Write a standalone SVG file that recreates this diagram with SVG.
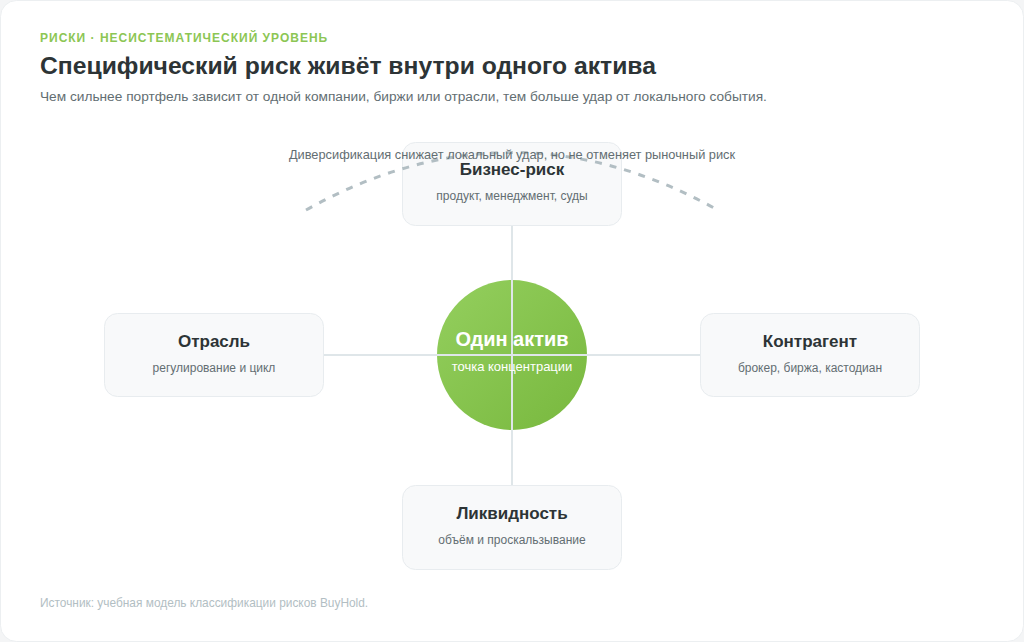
<svg xmlns="http://www.w3.org/2000/svg" width="1024" height="642" viewBox="0 0 1024 642">
<defs>
<linearGradient id="g" x1="0" y1="0" x2="1" y2="1">
<stop offset="0" stop-color="#94cf5e"/>
<stop offset="1" stop-color="#78b83e"/>
</linearGradient>
<style>
text{font-family:"Liberation Sans",Arial,sans-serif}
.card{fill:#f8f9fa;stroke:#e8ecef;stroke-width:1}
.t{font-size:17px;font-weight:bold;fill:#2d3436;text-anchor:middle}
.s{font-size:12px;fill:#636e72;text-anchor:middle}
.ln{stroke:#dfe6e9;stroke-width:2;fill:none}
</style>
</defs>
<rect width="1024" height="642" fill="#f4f5f6"/>
<rect x="0.5" y="0.5" width="1023" height="641" rx="16" fill="#ffffff" stroke="#eceff1"/>
<text x="40" y="42" font-size="12" font-weight="bold" fill="#8cc654" letter-spacing="1">РИСКИ · НЕСИСТЕМАТИЧЕСКИЙ УРОВЕНЬ</text>
<text x="40" y="74" font-size="24.7" font-weight="bold" fill="#2d3436">Специфический риск живёт внутри одного актива</text>
<text x="40" y="101" font-size="13.7" fill="#636e72">Чем сильнее портфель зависит от одной компании, биржи или отрасли, тем больше удар от локального события.</text>
<g id="node-business"><rect class="card" x="402.5" y="142.5" width="219" height="83" rx="13"/><text class="t" x="512" y="175">Бизнес-риск</text><text class="s" x="512" y="200">продукт, менеджмент, суды</text></g>
<g id="node-industry"><rect class="card" x="104.5" y="313.5" width="219" height="83" rx="13"/><text class="t" x="214" y="347">Отрасль</text><text class="s" x="214" y="372">регулирование и цикл</text></g>
<g id="node-counterparty"><rect class="card" x="700.5" y="313.5" width="219" height="83" rx="13"/><text class="t" x="810" y="347">Контрагент</text><text class="s" x="810" y="372">брокер, биржа, кастодиан</text></g>
<g id="node-liquidity"><rect class="card" x="402.5" y="485.5" width="219" height="84" rx="13"/><text class="t" x="512" y="519">Ликвидность</text><text class="s" x="512" y="544">объём и проскальзывание</text></g>
<g id="arc"><path d="M306 210 Q510 96 714 208" fill="none" stroke="#b2bec3" stroke-width="3" stroke-dasharray="7 8"/></g>
<g id="node-center"><circle cx="512" cy="355" r="75" fill="url(#g)"/></g>
<g id="connectors">
<line class="ln" x1="324" y1="355" x2="700" y2="355"/>
<line class="ln" x1="512" y1="226" x2="512" y2="485"/>
</g>
<g id="center-label"><text x="512" y="346" font-size="20" font-weight="bold" fill="#ffffff" text-anchor="middle">Один актив</text><text x="512" y="371" font-size="13" fill="#ffffff" text-anchor="middle">точка концентрации</text></g>
<text x="512" y="159" font-size="12.8" fill="#636e72" text-anchor="middle">Диверсификация снижает локальный удар, но не отменяет рыночный риск</text>
<text x="40" y="607" font-size="11.9" fill="#b2bec3">Источник: учебная модель классификации рисков BuyHold.</text>
</svg>
